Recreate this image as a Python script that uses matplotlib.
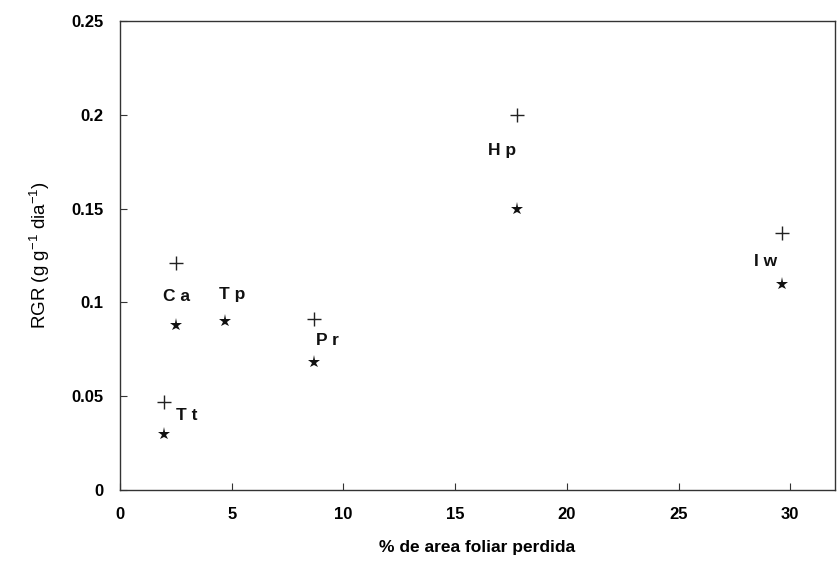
import matplotlib
matplotlib.use("Agg")
import matplotlib.pyplot as plt

# Data
species = ["C a", "T p", "P r", "T t", "H p", "I w"]
pct_loss = [2.5, 4.7, 8.7, 1.95, 17.75, 29.65]
rgr_plus = [0.121, None, 0.091, 0.047, 0.200, 0.137]
rgr_star = [0.088, 0.090, 0.068, 0.030, 0.150, 0.110]
label_x = [2.55, 5.0, 9.3, 3.0, 17.1, 28.9]
label_y = [0.103, 0.104, 0.0795, 0.0395, 0.181, 0.122]

x_ticks = [0, 5, 10, 15, 20, 25, 30]
y_ticks = [0, 0.05, 0.1, 0.15, 0.2, 0.25]
y_ticklabels = ["0", "0.05", "0.1", "0.15", "0.2", "0.25"]

plt.rcParams['font.family'] = ['Liberation Sans', 'DejaVu Sans']

fig = plt.figure(figsize=(8.38, 5.64), dpi=100)
ax = fig.add_axes([0.1432, 0.1312, 0.8532, 0.8316])

px = [x for x, y in zip(pct_loss, rgr_plus) if y is not None]
py = [y for y in rgr_plus if y is not None]
ax.plot(px, py, linestyle='none', marker='+', markersize=9.5, markeredgewidth=1.0,
        color='#222222')
ax.plot(pct_loss, rgr_star, linestyle='none', marker='*', markersize=9.5,
        color='#111111', markeredgewidth=0)

for name, lx, ly in zip(species, label_x, label_y):
    ax.text(lx, ly, name, ha='center', va='center', fontsize=12.5,
            fontweight='bold', color='#111111')

ax.set_xlim(0, 32)
ax.set_ylim(0, 0.25)
ax.set_xticks(x_ticks)
ax.set_xticklabels([str(t) for t in x_ticks])
ax.set_yticks(y_ticks)
ax.set_yticklabels(y_ticklabels)

for s in ax.spines.values():
    s.set_linewidth(1.0)
    s.set_color('#333333')

ax.tick_params(direction='in', length=5, width=0.8, color='#333333',
               labelsize=12)
ax.tick_params(axis='y', pad=12)
ax.tick_params(axis='x', pad=12)
for lab in ax.get_xticklabels() + ax.get_yticklabels():
    lab.set_fontweight('bold')

ax.set_xlabel('% de area foliar perdida', fontsize=12.5, fontweight='bold',
              labelpad=13)
ax.set_ylabel(r'RGR (g g$^{\mathregular{-1}}$ dia$^{\mathregular{-1}}$)',
              fontsize=13.5, labelpad=14)

fig.savefig('out.png', dpi=100)
